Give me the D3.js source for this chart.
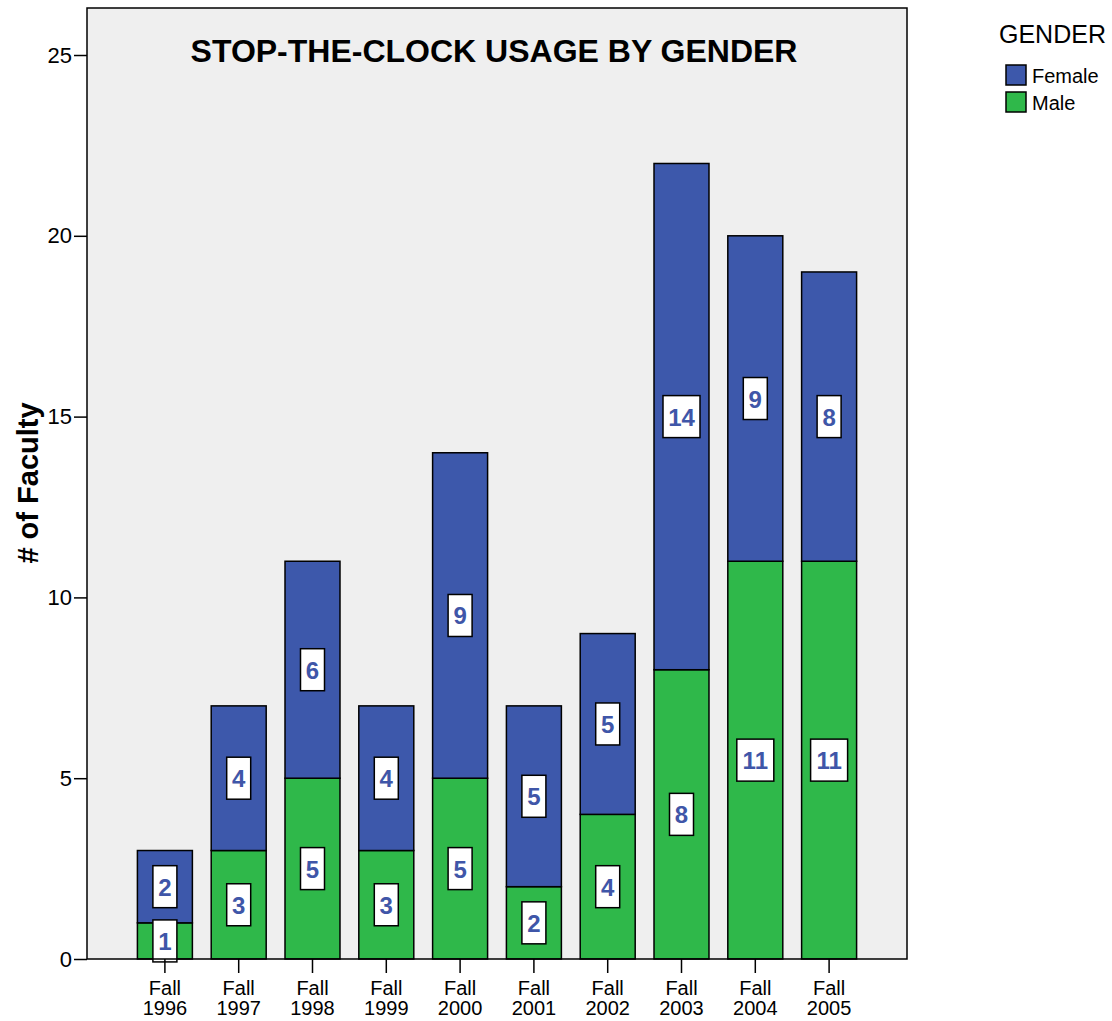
<!DOCTYPE html>
<html><head><meta charset="utf-8">
<script src="https://cdn.jsdelivr.net/npm/d3@7"></script>
<style>body{margin:0;background:#fff;} svg{display:block;font-family:"Liberation Sans",Arial,sans-serif;}</style>
</head><body>
<script>
const categories = ["Fall 1996","Fall 1997","Fall 1998","Fall 1999","Fall 2000","Fall 2001","Fall 2002","Fall 2003","Fall 2004","Fall 2005"];
const maleValues = [1,3,5,3,5,2,4,8,11,11];
const femaleValues = [2,4,6,4,9,5,5,14,9,8];
const yTicks = [0,5,10,15,20,25];
const seriesNames = ["Female","Male"];
const colors = {Female:"#3D58AB", Male:"#2FB84A"};

const W=1112,H=1021;
const L=87,R=907,T=8,B=959;
const svg=d3.select("body").append("svg").attr("width",W).attr("height",H);

svg.append("rect").attr("x",L).attr("y",T).attr("width",R-L).attr("height",B-T).attr("fill","#EFEFEF");

const x=d3.scaleBand().domain(categories).range([L,R]).paddingInner(0.255).paddingOuter(0.683);
const y=d3.scaleLinear().domain([0,26.3]).range([B,T]);

const data=categories.map((c,i)=>({cat:c,Male:maleValues[i],Female:femaleValues[i]}));
const stack=d3.stack().keys(["Male","Female"])(data);

const g=svg.append("g");
stack.forEach(layer=>{
  g.selectAll(null).data(layer).enter().append("rect")
    .attr("x",d=>x(d.data.cat)).attr("width",x.bandwidth())
    .attr("y",d=>y(d[1])).attr("height",d=>y(d[0])-y(d[1]))
    .attr("fill",colors[layer.key]).attr("stroke","#000").attr("stroke-width",1.5);
});

// frame
svg.append("rect").attr("x",L).attr("y",T).attr("width",R-L).attr("height",B-T).attr("fill","none").attr("stroke","#000").attr("stroke-width",1.5);

// y axis
const ya=svg.append("g").attr("transform",`translate(${L},0)`)
  .call(d3.axisLeft(y).tickValues(yTicks).tickSize(13).tickPadding(2).tickFormat(d3.format("d")));
ya.select(".domain").remove();
ya.selectAll("line").attr("stroke","#000").attr("stroke-width",1.5);
ya.selectAll("text").attr("font-size",22).attr("fill","#000").attr("font-family","Liberation Sans, Arial, sans-serif");

// x axis
const xa=svg.append("g").attr("transform",`translate(0,${B})`)
  .call(d3.axisBottom(x).tickSize(14).tickFormat(""));
xa.select(".domain").remove();
xa.selectAll("line").attr("stroke","#000").attr("stroke-width",1.5);
xa.selectAll(".tick").each(function(d){
  const parts=d.split(" ");
  const t=d3.select(this).append("text").attr("fill","#000").attr("font-size",20)
    .attr("text-anchor","middle").attr("font-family","Liberation Sans, Arial, sans-serif");
  t.append("tspan").attr("x",0).attr("y",36).text(parts[0]);
  t.append("tspan").attr("x",0).attr("y",56).text(parts[1]);
});

// labels
stack.forEach(layer=>{
  layer.forEach(d=>{
    const v=d[1]-d[0];
    const cx=x(d.data.cat)+x.bandwidth()/2;
    const cy=y((d[0]+d[1])/2);
    const txt=String(v);
    const bw=txt.length>1?37:24, bh=42;
    g.append("rect").attr("x",cx-bw/2).attr("y",cy-bh/2).attr("width",bw).attr("height",bh)
      .attr("fill","#fff").attr("stroke","#000").attr("stroke-width",1.5);
    g.append("text").attr("x",cx).attr("y",cy+9).attr("text-anchor","middle")
      .attr("font-size",24).attr("font-weight","bold").attr("fill","#3F56A8").text(txt);
  });
});

// title
svg.append("text").attr("x",494).attr("y",62).attr("text-anchor","middle")
  .attr("font-size",32).attr("font-weight","bold").attr("fill","#000").text("STOP-THE-CLOCK USAGE BY GENDER");

// y label
svg.append("text").attr("transform","translate(38,483) rotate(-90)").attr("text-anchor","middle")
  .attr("font-size",29).attr("font-weight","bold").attr("fill","#000").text("# of Faculty");

// legend
const lg=svg.append("g");
lg.append("text").attr("x",999).attr("y",43).attr("font-size",25).attr("fill","#000").text("GENDER");
seriesNames.forEach((s,i)=>{
  lg.append("rect").attr("x",1006).attr("y",65+i*27).attr("width",20).attr("height",20)
    .attr("fill",colors[s]).attr("stroke","#000").attr("stroke-width",1.5);
  lg.append("text").attr("x",1032).attr("y",83+i*27).attr("font-size",20).attr("fill","#000").text(s);
});
</script>
</body></html>
